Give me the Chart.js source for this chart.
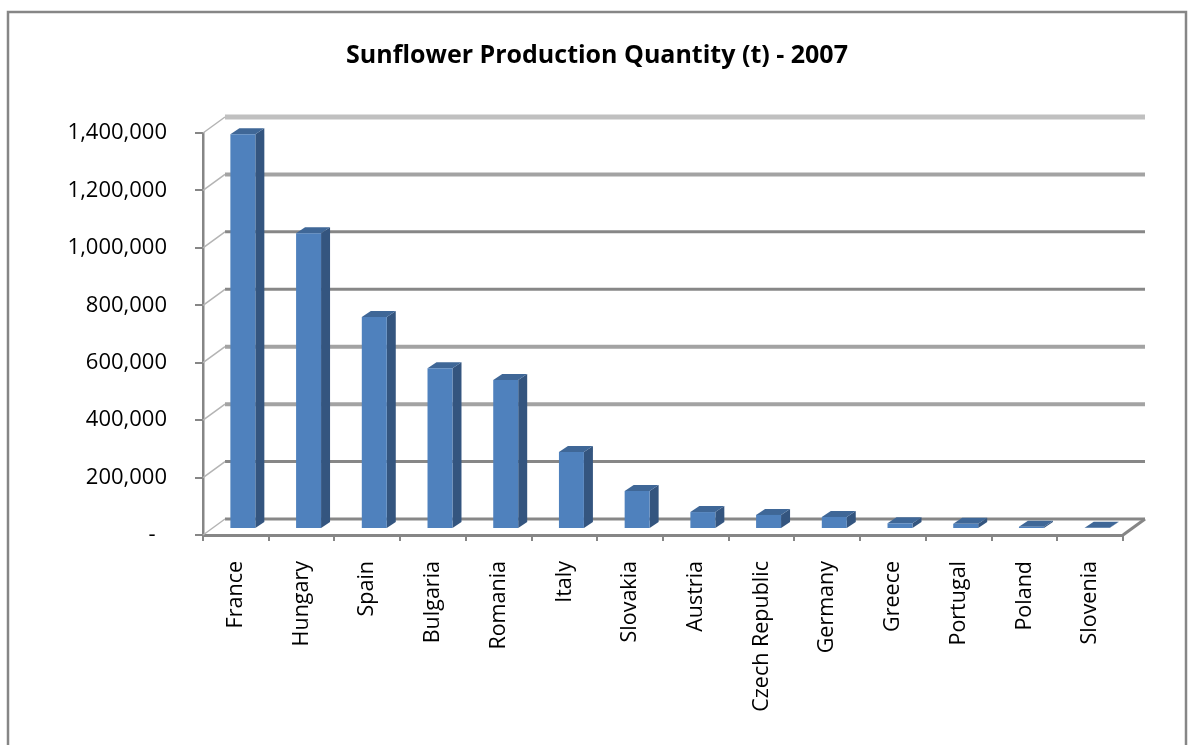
<!DOCTYPE html>
<html>
<head>
<meta charset="utf-8">
<title>Sunflower Production Quantity (t) - 2007</title>
<script src="https://cdn.jsdelivr.net/npm/chart.js@4.4.1/dist/chart.umd.min.js"></script>
<style>
  html, body { margin: 0; padding: 0; background: #fff; }
  canvas { display: block; }
</style>
</head>
<body>
<canvas id="sunflower" width="1194" height="745"></canvas>
<script>
var countries = ["France", "Hungary", "Spain", "Bulgaria", "Romania", "Italy", "Slovakia", "Austria",
  "Czech Republic", "Germany", "Greece", "Portugal", "Poland", "Slovenia"];
var production = [1375000, 1030000, 738000, 560000, 519000, 268000, 132000, 59000,
  49000, 42000, 20000, 18000, 8000, 4000];
var yTicks = [0, 200000, 400000, 600000, 800000, 1000000, 1200000, 1400000];

// fake depth: back wall offset, bar front offset, bar thickness
var wallDx = 22, wallDy = -16;
var barDx = 7, barDy = -6;
var depthDx = 9, depthDy = -6;

// back wall gridlines, bottom to top
var gridColors = ["#878787", "#878787", "#a3a3a3", "#a3a3a3", "#878787", "#878787", "#a3a3a3", "#c0c0c0"];
var gridWidths = [3, 3, 4, 4, 3, 3, 4, 5];

var frontColor = "#4f81bd";
var sideColor = "#34557f";
var topColor = "#3f6797";
var axisColor = "#868686";

function line(ctx, x1, y1, x2, y2) {
  ctx.beginPath();
  ctx.moveTo(x1, y1);
  ctx.lineTo(x2, y2);
  ctx.stroke();
}

var pseudo3d = {
  id: "pseudo3d",
  beforeDraw: function (chart) {
    var ctx = chart.ctx;
    ctx.save();
    ctx.fillStyle = "#fff";
    ctx.fillRect(0, 0, chart.width, chart.height);
    ctx.strokeStyle = axisColor;
    ctx.lineWidth = 2.5;
    ctx.strokeRect(8, 12, chart.width - 16, chart.height + 10);
    ctx.restore();
  },
  beforeDatasetsDraw: function (chart) {
    var ctx = chart.ctx;
    var area = chart.chartArea;
    var y = chart.scales.y;

    ctx.save();
    y.ticks.forEach(function (t, i) {
      var py = y.getPixelForValue(t.value);
      ctx.strokeStyle = gridColors[i];
      ctx.lineWidth = gridWidths[i];
      line(ctx, area.left + wallDx, py + wallDy, area.right + wallDx, py + wallDy);
      ctx.strokeStyle = "#b4b4b4";
      ctx.lineWidth = 1.5;
      line(ctx, area.left, py, area.left + wallDx, py + wallDy);
    });
    ctx.strokeStyle = axisColor;
    ctx.lineWidth = 3;
    line(ctx, area.right, area.bottom, area.right + wallDx, area.bottom + wallDy);
    ctx.restore();

    // side and top faces, then leave the shift on for the front faces
    ctx.save();
    ctx.translate(barDx, barDy);
    chart.getDatasetMeta(0).data.forEach(function (bar) {
      var p = bar.getProps(["x", "y", "base", "width"], true);
      var l = p.x - p.width / 2;
      var r = p.x + p.width / 2;
      ctx.fillStyle = sideColor;
      ctx.beginPath();
      ctx.moveTo(r, p.y);
      ctx.lineTo(r + depthDx, p.y + depthDy);
      ctx.lineTo(r + depthDx, p.base + depthDy);
      ctx.lineTo(r, p.base);
      ctx.closePath();
      ctx.fill();
      ctx.fillStyle = topColor;
      ctx.beginPath();
      ctx.moveTo(l, p.y);
      ctx.lineTo(l + depthDx, p.y + depthDy);
      ctx.lineTo(r + depthDx, p.y + depthDy);
      ctx.lineTo(r, p.y);
      ctx.closePath();
      ctx.fill();
    });
  },
  afterDatasetsDraw: function (chart) {
    chart.ctx.restore();
  }
};

Chart.defaults.font.family = "'Open Sans', sans-serif";
Chart.defaults.color = "#000";

var ctx = document.getElementById("sunflower").getContext("2d");
var myChart = new Chart(ctx, {
  type: "bar",
  data: {
    labels: countries,
    datasets: [
      {
        label: "Production (t)",
        data: production,
        backgroundColor: frontColor,
        borderWidth: 0,
        categoryPercentage: 1,
        barPercentage: 0.38,
        clip: false
      }
    ]
  },
  options: {
    responsive: false,
    animation: false,
    events: [],
    layout: {
      padding: { left: 8, right: 8, top: 0, bottom: 0 }
    },
    plugins: {
      legend: { display: false },
      tooltip: { enabled: false },
      title: {
        display: true,
        text: "Sunflower Production Quantity (t) - 2007",
        color: "#000",
        font: { size: 25, weight: "bold" },
        padding: { top: 41, bottom: 62 }
      }
    },
    scales: {
      x: {
        grid: {
          display: true,
          drawOnChartArea: false,
          tickLength: 6,
          color: axisColor,
          lineWidth: 2
        },
        border: { color: axisColor, width: 3 },
        ticks: {
          autoSkip: false,
          maxRotation: 90,
          minRotation: 90,
          padding: 20,
          font: { size: 21.5 }
        },
        afterFit: function (scale) { scale.height = 210; }
      },
      y: {
        min: 0,
        max: 1400000,
        afterBuildTicks: function (scale) {
          scale.ticks = yTicks.map(function (v) { return { value: v }; });
        },
        grid: {
          display: true,
          drawOnChartArea: false,
          tickLength: 8,
          color: axisColor,
          lineWidth: 2
        },
        border: { color: axisColor, width: 2.5 },
        ticks: {
          padding: 28,
          font: { size: 22 },
          callback: function (value) {
            return value === 0 ? "-  " : value.toLocaleString("en-US");
          }
        },
        afterFit: function (scale) { scale.width = 195; }
      },
      // empty strip on the right, keeps the plot narrower than the title
      spacer: {
        type: "linear",
        position: "right",
        display: true,
        grid: { display: false },
        border: { display: false },
        ticks: { display: false },
        afterFit: function (scale) { scale.width = 63; }
      }
    }
  },
  plugins: [pseudo3d]
});
</script>
</body>
</html>
